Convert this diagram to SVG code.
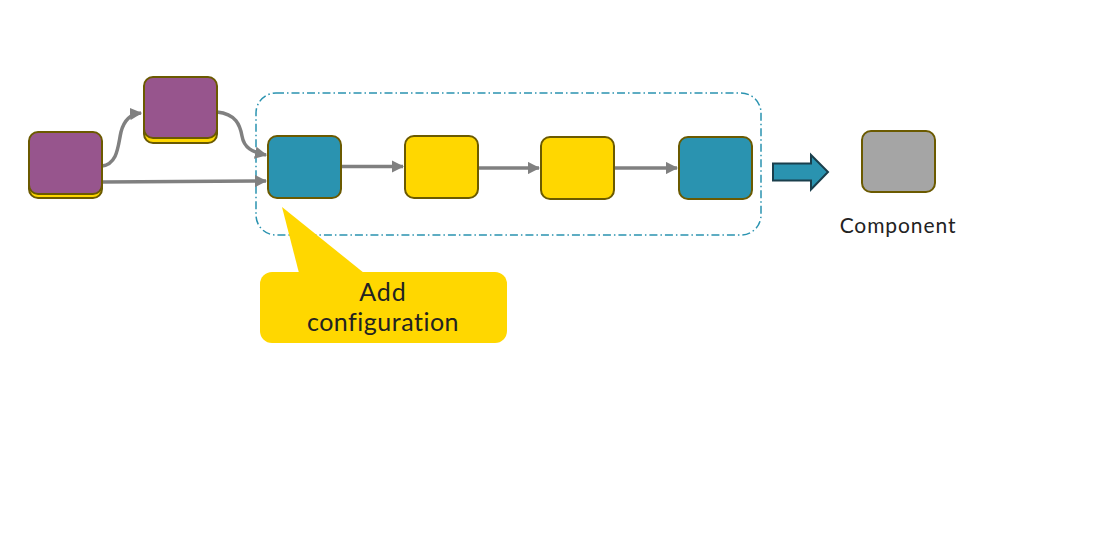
<svg xmlns="http://www.w3.org/2000/svg" width="1101" height="547" viewBox="0 0 1101 547">
<defs>
<style>
.node{stroke:#6b5a00;stroke-width:2}
.purple{fill:#97558d}
.teal{fill:#2a93b0}
.yellow{fill:#ffd700}
.gray{fill:#a5a5a5}
.conn{fill:none;stroke:#808080;stroke-width:3.5}
.lbl{font-family:Lato,"Open Sans",sans-serif;font-weight:400;fill:#222}
</style>
<marker id="ah" viewBox="0 0 10 10" refX="9" refY="5" markerWidth="3.5" markerHeight="3.5" markerUnits="strokeWidth" orient="auto">
<path d="M0,0 L10,5 L0,10 z" fill="#808080"/>
</marker>
</defs>
<rect width="1101" height="547" fill="#fff"/>
<g id="group-box">
<rect x="256" y="93" width="505" height="142" rx="20" ry="20" fill="none" stroke="#2a93b0" stroke-width="1.5" stroke-dasharray="8 3 1.5 3"/>
</g>
<g id="connectors">
<path class="conn" d="M102,166 C118,164 118,145 121,132 C124,120 130,114 141,113" marker-end="url(#ah)"/>
<path class="conn" d="M217,112 C236,114 240,125 242,136 C244,148 252,152 266,155" marker-end="url(#ah)"/>
<path class="conn" d="M102,182 L266,181" marker-end="url(#ah)"/>
<path class="conn" d="M342,166.5 L403,166.5" marker-end="url(#ah)"/>
<path class="conn" d="M479,168 L539,168" marker-end="url(#ah)"/>
<path class="conn" d="M615,168 L677,168" marker-end="url(#ah)"/>
</g>
<g id="node-src">
<rect class="node yellow" x="29" y="136" width="73" height="62" rx="9"/>
<rect class="node purple" x="29" y="132" width="73" height="62" rx="9"/>
</g>
<g id="node-upper">
<rect class="node yellow" x="144" y="81" width="73" height="62" rx="9"/>
<rect class="node purple" x="144" y="77" width="73" height="61" rx="9"/>
</g>
<g id="node-1"><rect class="node teal" x="268" y="136" width="73" height="62" rx="9"/></g>
<g id="node-2"><rect class="node yellow" x="405" y="136" width="73" height="62" rx="9"/></g>
<g id="node-3"><rect class="node yellow" x="541" y="137" width="73" height="62" rx="9"/></g>
<g id="node-4"><rect class="node teal" x="679" y="137" width="73" height="62" rx="9"/></g>
<g id="big-arrow">
<path d="M773,163.5 L811,163.5 L811,155 L828,172 L811,189.5 L811,180.5 L773,180.5 z" fill="#2a93b0" stroke="#1a3f4c" stroke-width="2" stroke-linejoin="miter"/>
</g>
<g id="node-component">
<rect class="node gray" x="862" y="131" width="73" height="61" rx="9"/>
<text class="lbl" x="898" y="233" font-size="21" letter-spacing="0.9" text-anchor="middle">Component</text>
</g>
<g id="callout">
<path d="M282,207 L299,273 L364,273 z" fill="#ffd700"/>
<rect x="260" y="272" width="247" height="71" rx="12" fill="#ffd700"/>
<text class="lbl" x="383" y="301" font-size="25" letter-spacing="1" text-anchor="middle">Add</text>
<text class="lbl" x="383" y="331" font-size="25" letter-spacing="0.5" text-anchor="middle">configuration</text>
</g>
</svg>
